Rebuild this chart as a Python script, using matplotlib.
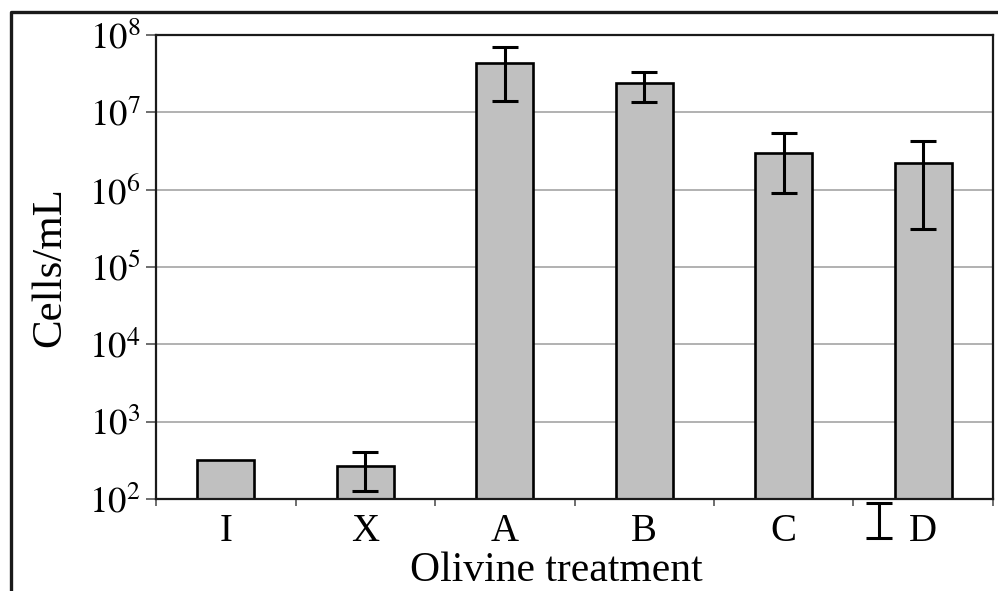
"""
Cell counts per olivine treatment, log scale bar chart with error bars.
"""

import matplotlib
matplotlib.use('Agg')
import matplotlib.pyplot as plt
from matplotlib.lines import Line2D
import numpy as np

categories = ['I', 'X', 'A', 'B', 'C', 'D']
cells = [320, 270, 4.3e7, 2.4e7, 3.0e6, 2.2e6]
err_low = [np.nan, 127, 1.42e7, 1.36e7, 9.0e5, 3.1e5]
err_high = [np.nan, 409, 7.1e7, 3.37e7, 5.4e6, 4.3e6]

# stray error bar that sits below the axis near D in the original
stray_x = 4.68
stray_low = 31
stray_high = 89

plt.rcParams['font.family'] = ['Liberation Serif', 'DejaVu Serif']
plt.rcParams['mathtext.fontset'] = 'stix'

fig = plt.figure(figsize=(9.98, 5.91), dpi=100)
ax = fig.add_axes([156/998, 1 - 499/591, 837/998, 464/591])

x = np.arange(len(categories))
ax.set_yscale('log')
ax.set_ylim(1e2, 1e8)
ax.set_xlim(-0.5, len(categories) - 0.5)

ax.yaxis.grid(True, which='major', color='#ababab', linewidth=1.3, zorder=0)
ax.set_axisbelow(True)

ax.bar(x, cells, width=0.41, color='#c0c0c0', edgecolor='black', linewidth=1.9, zorder=2)

for i in range(len(categories)):
    if np.isnan(err_low[i]):
        continue
    yerr = [[cells[i] - err_low[i]], [err_high[i] - cells[i]]]
    ax.errorbar([x[i]], [cells[i]], yerr=yerr, fmt='none', ecolor='black',
                elinewidth=2.2, capsize=9.7, capthick=2.2, zorder=3)

mid = np.sqrt(stray_low * stray_high)
eb = ax.errorbar([stray_x], [mid], yerr=[[mid - stray_low], [stray_high - mid]], fmt='none',
                 ecolor='black', elinewidth=2.2, capsize=9.7, capthick=2.2, zorder=3)
for cap in eb[1]:
    cap.set_clip_on(False)
for col in eb[2]:
    col.set_clip_on(False)

# ticks
ax.set_yticks([10.0**k for k in range(2, 9)])
ax.set_yticklabels(['$10^{%d}$' % k for k in range(2, 9)], fontsize=26.5)
ax.yaxis.set_minor_locator(matplotlib.ticker.NullLocator())
ax.tick_params(axis='y', which='major', direction='out', length=7, width=1.2, pad=4, color='#555555')

ax.set_xticks(x)
ax.set_xticklabels(categories, fontsize=28)
ax.set_xticks(np.arange(-0.5, len(categories)), minor=True)
ax.tick_params(axis='x', which='major', length=0, pad=10)
ax.tick_params(axis='x', which='minor', direction='out', length=5, width=1.2, color='#555555')

for s in ax.spines.values():
    s.set_linewidth(1.6)
    s.set_color('#1a1a1a')

ax.set_xlabel('Olivine treatment', fontsize=30)
ax.xaxis.set_label_coords(0.478, -0.113)
ax.set_ylabel('Cells/mL', fontsize=31)
ax.yaxis.set_label_coords(-0.104, 0.5)

# partial outer frame (left and top edges visible in the crop)
fx = 11/998
fy = 1 - 12/591
fig.add_artist(Line2D([fx, fx, 1.0], [0.0, fy, fy], transform=fig.transFigure,
                      color='#1a1a1a', linewidth=2.4))

plt.savefig('out.png', dpi=100)
